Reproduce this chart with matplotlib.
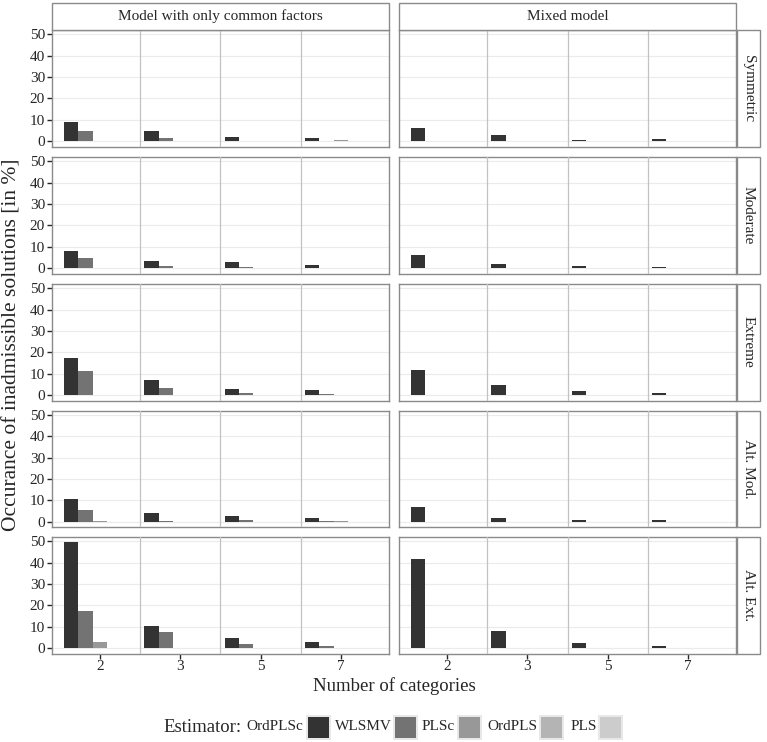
import matplotlib
matplotlib.use("Agg")
import matplotlib.pyplot as plt
from matplotlib.patches import Rectangle
import numpy as np

plt.rcParams['font.family'] = ['Liberation Serif', 'DejaVu Serif']

categories = ["2", "3", "5", "7"]
estimators = ["OrdPLSc", "WLSMV", "PLSc", "OrdPLS", "PLS"]
scenarios = ["Symmetric", "Moderate", "Extreme", "Alt. Mod.", "Alt. Ext."]
models = ["Model with only common factors", "Mixed model"]
fills = ["#333333", "#737373", "#989898", "#B4B4B4", "#CCCCCC"]

# rows = categories (2, 3, 5, 7), columns = estimators
common_symmetric = [[9.1, 4.8, 0.1, 0.0, 0.0],
                    [4.8, 1.5, 0.1, 0.0, 0.0],
                    [2.0, 0.1, 0.2, 0.1, 0.0],
                    [1.4, 0.1, 0.4, 0.1, 0.0]]
common_moderate = [[8.2, 4.6, 0.1, 0.0, 0.0],
                   [3.5, 1.1, 0.2, 0.0, 0.0],
                   [2.8, 0.6, 0.1, 0.0, 0.0],
                   [1.5, 0.2, 0.1, 0.0, 0.0]]
common_extreme = [[17.5, 11.4, 0.3, 0.0, 0.0],
                  [6.9, 3.2, 0.1, 0.0, 0.0],
                  [3.1, 1.1, 0.2, 0.0, 0.0],
                  [2.6, 0.6, 0.2, 0.0, 0.0]]
common_altmod = [[10.6, 5.5, 0.1, 0.0, 0.0],
                 [4.0, 0.5, 0.0, 0.0, 0.0],
                 [2.5, 0.7, 0.0, 0.0, 0.0],
                 [1.9, 0.4, 0.1, 0.0, 0.0]]
common_altext = [[49.5, 17.2, 3.0, 0.0, 0.0],
                 [10.4, 7.7, 0.0, 0.0, 0.0],
                 [5.0, 2.1, 0.0, 0.0, 0.0],
                 [3.0, 0.8, 0.0, 0.0, 0.0]]

mixed_symmetric = [[6.0, 0.0, 0.1, 0.0, 0.0],
                   [2.9, 0.0, 0.1, 0.0, 0.0],
                   [0.7, 0.0, 0.0, 0.0, 0.0],
                   [0.8, 0.0, 0.0, 0.0, 0.0]]
mixed_moderate = [[6.3, 0.0, 0.0, 0.0, 0.0],
                  [2.0, 0.0, 0.0, 0.0, 0.0],
                  [1.2, 0.0, 0.0, 0.0, 0.0],
                  [0.6, 0.0, 0.2, 0.0, 0.0]]
mixed_extreme = [[11.6, 0.0, 0.3, 0.0, 0.0],
                 [4.8, 0.0, 0.0, 0.0, 0.0],
                 [2.0, 0.0, 0.0, 0.0, 0.0],
                 [0.9, 0.0, 0.0, 0.0, 0.0]]
mixed_altmod = [[7.0, 0.0, 0.0, 0.0, 0.0],
                [1.7, 0.0, 0.0, 0.0, 0.0],
                [0.8, 0.0, 0.0, 0.0, 0.0],
                [0.9, 0.0, 0.0, 0.0, 0.0]]
mixed_altext = [[41.7, 0.0, 0.2, 0.0, 0.0],
                [8.2, 0.0, 0.0, 0.0, 0.0],
                [2.5, 0.0, 0.0, 0.0, 0.0],
                [1.2, 0.0, 0.0, 0.0, 0.0]]

panels = [[common_symmetric, mixed_symmetric],
          [common_moderate, mixed_moderate],
          [common_extreme, mixed_extreme],
          [common_altmod, mixed_altmod],
          [common_altext, mixed_altext]]

W, H = 767, 742
fig = plt.figure(figsize=(W / 100, H / 100), dpi=100)

def fx(px):
    return px / W

def fy(py):
    return 1 - py / H

col_left = [52, 399]
pw = 337
row_top = [30, 157, 284, 410.5, 537]
ph = 116.5
border = "#8a8a8a"
ink = "#262626"

ymax = max(max(max(r) for r in p) for row in panels for p in row)
ylim = (-0.05 * ymax, 1.05 * ymax)
x = np.arange(len(categories))
bw = 0.9 / len(estimators)

for r, scen in enumerate(scenarios):
    for c, model in enumerate(models):
        ax = fig.add_axes([fx(col_left[c]), fy(row_top[r] + ph), fx(pw), ph / H])
        vals = np.array(panels[r][c])
        for k in range(len(estimators)):
            ax.bar(x + (k - 2) * bw, vals[:, k], width=bw, color=fills[k], zorder=3)
        ax.set_xlim(-0.6, 3.6)
        ax.set_ylim(*ylim)
        ax.set_yticks([0, 10, 20, 30, 40, 50])
        ax.set_xticks(x)
        ax.grid(axis="y", color="#ebebeb", lw=0.8, zorder=0)
        for v in [0.5, 1.5, 2.5]:
            ax.axvline(v, color="#c2c2c2", lw=0.9, zorder=4)
        for s in ax.spines.values():
            s.set_color(border)
            s.set_linewidth(1.0)
        ax.tick_params(direction="out", length=3.5, width=1, color=ink,
                       labelsize=11, labelcolor=ink, pad=1.5)
        if c == 0:
            ax.set_yticklabels(["0", "10", "20", "30", "40", "50"])
        else:
            ax.tick_params(axis="y", left=False, labelleft=False)
        if r == len(scenarios) - 1:
            ax.set_xticklabels(categories)
        else:
            ax.tick_params(axis="x", bottom=False, labelbottom=False)

        if r == 0:
            fig.patches.append(Rectangle((fx(col_left[c]), fy(30)), fx(pw), (30 - 2.5) / H,
                                         transform=fig.transFigure, facecolor="white",
                                         edgecolor=border, lw=1.0))
            fig.text(fx(col_left[c] + pw / 2), fy(16.5), model, ha="center", va="center",
                     fontsize=11, color=ink)
        if c == 1:
            fig.patches.append(Rectangle((fx(737), fy(row_top[r] + ph)), fx(23), ph / H,
                                         transform=fig.transFigure, facecolor="white",
                                         edgecolor=border, lw=1.0))
            fig.text(fx(748.5), fy(row_top[r] + ph / 2), scen, ha="center", va="center",
                     rotation=-90, fontsize=11, color=ink)

fig.text(fx(394), fy(686), "Number of categories", ha="center", va="center",
         fontsize=13.5, color=ink)
fig.text(fx(12), fy(345), "Occurance of inadmissible solutions [in %]", ha="center",
         va="center", rotation=90, fontsize=15.5, color=ink)

# legend (labels sit left of the keys)
fig.text(fx(163), fy(727), "Estimator:", ha="left", va="center", fontsize=13.5, color=ink)
label_x = [246, 335, 422, 487, 571]
key_x = [306, 393, 457, 539, 598]
for k, est in enumerate(estimators):
    fig.text(fx(label_x[k]), fy(727), est, ha="left", va="center", fontsize=11, color=ink)
    fig.patches.append(Rectangle((fx(key_x[k]), fy(740)), fx(25), 25 / H,
                                 transform=fig.transFigure, facecolor="#e8e8e8",
                                 edgecolor="none"))
    fig.patches.append(Rectangle((fx(key_x[k] + 2), fy(738)), fx(21), 21 / H,
                                 transform=fig.transFigure, facecolor=fills[k],
                                 edgecolor="none"))

fig.savefig("out.png", dpi=100)
